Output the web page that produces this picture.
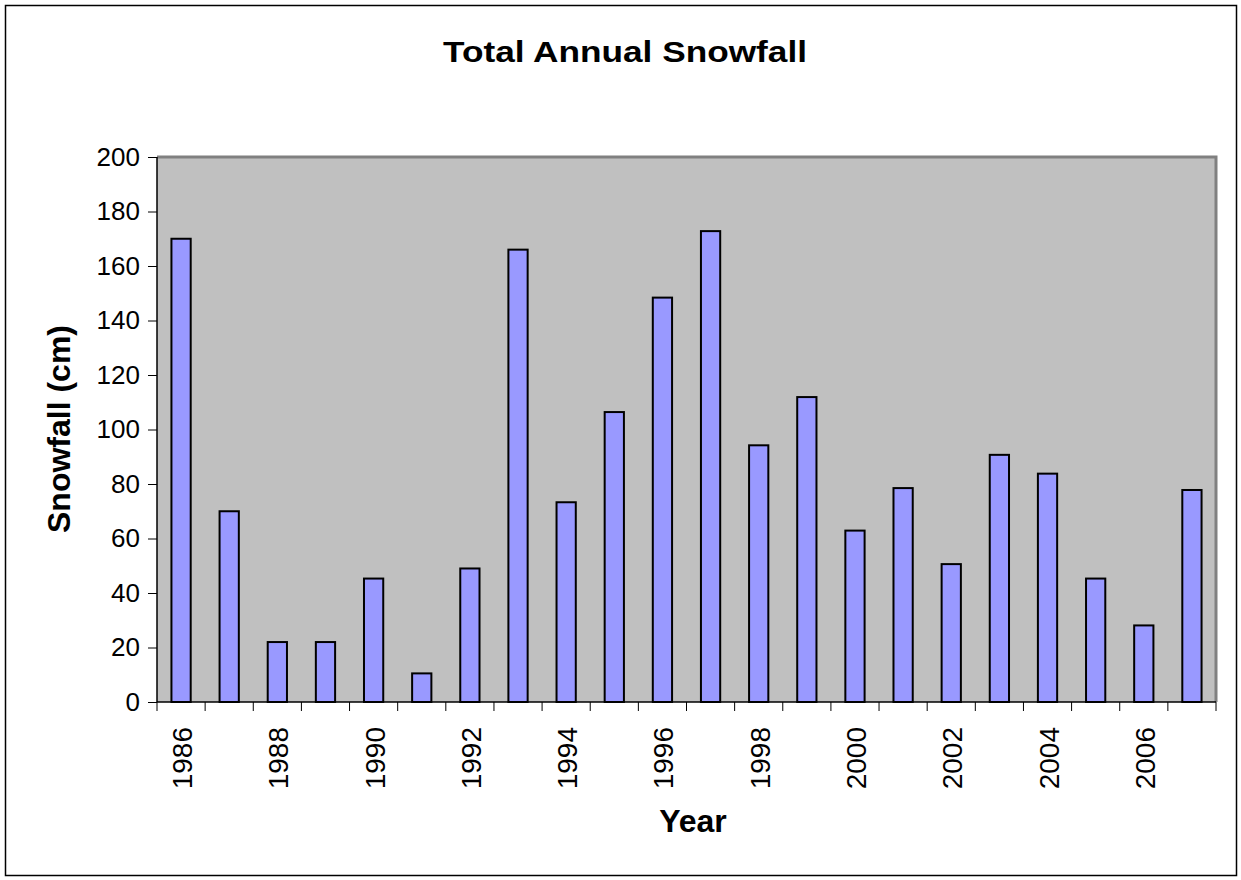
<!DOCTYPE html>
<html>
<head>
<meta charset="utf-8">
<script src="https://cdn.jsdelivr.net/npm/d3@7"></script>
<style>
  body { margin: 0; background: #fff; }
  text { font-family: 'Liberation Sans', Arial, sans-serif; }
</style>
</head>
<body>
<div id="chart"></div>
<script>
const years = ['1986', '1987', '1988', '1989', '1990', '1991', '1992', '1993', '1994', '1995', '1996',
  '1997', '1998', '1999', '2000', '2001', '2002', '2003', '2004', '2005', '2006', '2007']
const snowfall = [170, 70, 22, 22, 45.3, 10.5, 49, 166, 73.3, 106.4, 148.4,
  172.8, 94.2, 111.9, 62.9, 78.5, 50.6, 90.7, 83.8, 45.3, 28.1, 77.8]
const yTicks = [0, 20, 40, 60, 80, 100, 120, 140, 160, 180, 200]

const datapoints = years.map((y, i) => ({ year: y, value: snowfall[i] }))

let margin = { top: 157, left: 157, right: 25, bottom: 178 }
let width = 1241 - margin.left - margin.right
let height = 880 - margin.top - margin.bottom

const root = d3
  .select('#chart')
  .append('svg')
  .attr('width', 1241)
  .attr('height', 880)

// outer chart frame
root
  .append('rect')
  .attr('x', 5.5)
  .attr('y', 5.5)
  .attr('width', 1231)
  .attr('height', 870)
  .attr('fill', '#fff')
  .attr('stroke', '#000')
  .attr('stroke-width', 1.5)

root
  .append('text')
  .attr('x', 625)
  .attr('y', 62)
  .attr('text-anchor', 'middle')
  .attr('font-size', 30)
  .attr('font-weight', 'bold')
  .attr('textLength', 364)
  .attr('lengthAdjust', 'spacingAndGlyphs')
  .text('Total Annual Snowfall')

const svg = root
  .append('g')
  .attr('transform', 'translate(' + margin.left + ',' + margin.top + ')')

var xPositionScale = d3
  .scaleBand()
  .domain(years)
  .range([0, width])
  .paddingInner(0.6)
  .paddingOuter(0.3)

var yPositionScale = d3
  .scaleLinear()
  .domain([0, 200])
  .range([height, 0])

// plot area
svg
  .append('rect')
  .attr('width', width)
  .attr('height', height)
  .attr('fill', '#c0c0c0')

// gray frame on top and right
svg
  .append('path')
  .attr('d', 'M0,0H' + width + 'V' + height)
  .attr('fill', 'none')
  .attr('stroke', '#808080')
  .attr('stroke-width', 3)

svg
  .selectAll('.bar')
  .data(datapoints)
  .enter()
  .append('rect')
  .attr('class', 'bar')
  .attr('x', d => xPositionScale(d.year))
  .attr('y', d => yPositionScale(d.value))
  .attr('width', xPositionScale.bandwidth())
  .attr('height', d => height - yPositionScale(d.value))
  .attr('fill', '#9999ff')
  .attr('stroke', '#000')
  .attr('stroke-width', 2)

// y axis
const yAxis = d3
  .axisLeft(yPositionScale)
  .tickValues(yTicks)
  .tickSize(9)
  .tickPadding(8)
svg
  .append('g')
  .attr('class', 'y-axis')
  .call(yAxis)

svg.selectAll('.y-axis text').attr('font-size', 26).attr('font-family', "'Liberation Sans', Arial, sans-serif").attr('fill', '#000')
svg.selectAll('.y-axis line').attr('stroke', '#000')
svg.select('.y-axis .domain').attr('d', 'M0,0V' + height).attr('stroke', '#000').attr('stroke-width', 1.5)

// x axis: ticks between categories, labels every other year
const xAxis = svg.append('g').attr('class', 'x-axis').attr('transform', 'translate(0,' + height + ')')
xAxis
  .append('line')
  .attr('x1', 0)
  .attr('x2', width)
  .attr('stroke', '#000')
  .attr('stroke-width', 1.5)
xAxis
  .selectAll('.tick-mark')
  .data(d3.range(years.length + 1))
  .enter()
  .append('line')
  .attr('class', 'tick-mark')
  .attr('x1', i => (i * width) / years.length)
  .attr('x2', i => (i * width) / years.length)
  .attr('y1', 0)
  .attr('y2', 9)
  .attr('stroke', '#000')
xAxis
  .selectAll('.year-label')
  .data(years.filter((y, i) => i % 2 === 0))
  .enter()
  .append('text')
  .attr('class', 'year-label')
  .attr('transform', d => 'translate(' + (xPositionScale(d) + xPositionScale.bandwidth() / 2 + 11) + ',25) rotate(-90)')
  .attr('text-anchor', 'end')
  .attr('font-size', 28)
  .text(d => d)

// axis titles
root
  .append('text')
  .attr('x', 693)
  .attr('y', 832)
  .attr('text-anchor', 'middle')
  .attr('font-size', 32)
  .attr('font-weight', 'bold')
  .text('Year')

root
  .append('text')
  .attr('transform', 'translate(70,429) rotate(-90)')
  .attr('text-anchor', 'middle')
  .attr('font-size', 32)
  .attr('font-weight', 'bold')
  .text('Snowfall (cm)')
</script>
</body>
</html>
